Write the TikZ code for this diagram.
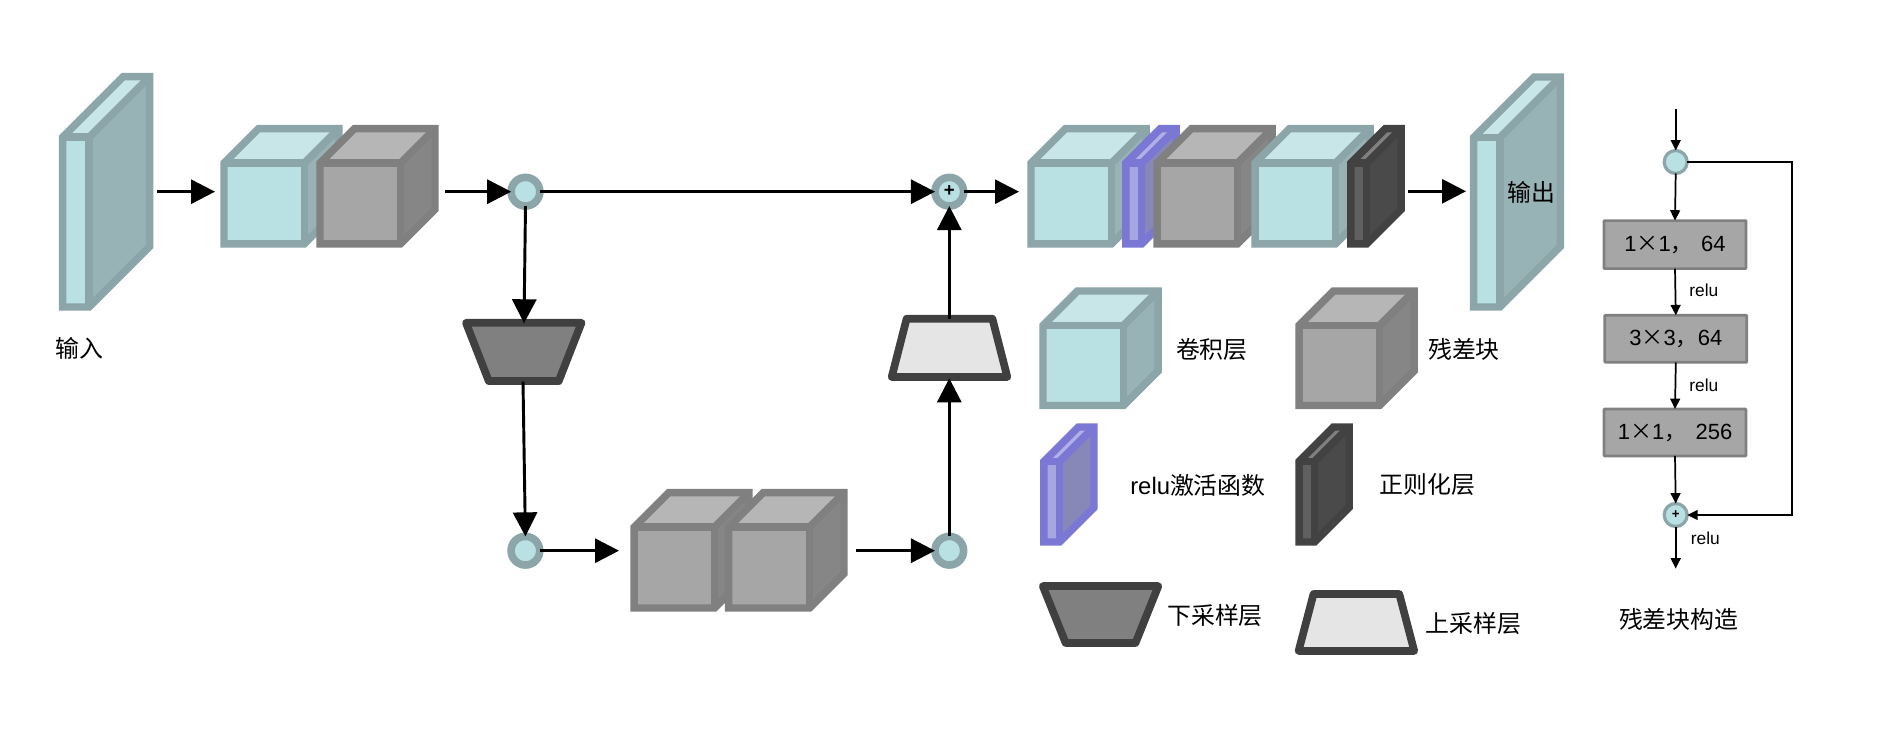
\documentclass[tikz,border=0pt]{standalone}
\usepackage{fontspec}
\setmainfont{Liberation Sans}
\newfontfamily\cjk{Noto Sans CJK SC}
\usetikzlibrary{arrows.meta}
\definecolor{cyS}{HTML}{8BA5A8}\definecolor{cyF}{HTML}{B9E0E3}\definecolor{cyT}{HTML}{C8E6E8}\definecolor{cyD}{HTML}{97B3B6}
\definecolor{grS}{HTML}{808080}\definecolor{grF}{HTML}{A6A6A6}\definecolor{grT}{HTML}{B6B6B6}\definecolor{grD}{HTML}{868686}
\definecolor{puS}{HTML}{7A78D4}\definecolor{puF}{HTML}{A6A6E0}\definecolor{puT}{HTML}{B0B0E6}\definecolor{puD}{HTML}{8888B8}
\definecolor{dkS}{HTML}{424242}\definecolor{dkF}{HTML}{606060}\definecolor{dkT}{HTML}{808080}\definecolor{dkD}{HTML}{4A4A4A}
\newcommand{\layerbox}[7]{%
  \fill[#7F] (#2,{#3+#6}) rectangle ({#4-#6},#5);
  \fill[#7T] (#2,{#3+#6}) -- ({#2+#6},#3) -- (#4,#3) -- ({#4-#6},{#3+#6}) -- cycle;
  \fill[#7D] ({#4-#6},{#3+#6}) -- (#4,#3) -- (#4,{#5-#6}) -- ({#4-#6},#5) -- cycle;
  \draw[#7S,layerline] (#2,{#3+#6}) -- ({#2+#6},#3) -- (#4,#3) -- (#4,{#5-#6}) -- ({#4-#6},#5) -- (#2,#5) -- cycle;
  \draw[#7S,layerline] (#2,{#3+#6}) -- ({#4-#6},{#3+#6}) -- ({#4-#6},#5);
  \draw[#7S,layerline] ({#4-#6},{#3+#6}) -- (#4,#3);
  \coordinate (#1) at ({(#2+#4)/2},{(#3+#5)/2});
}
\tikzset{
  layerline/.style={line width=5.6pt,line join=miter,miter limit=10},
  bigarrow/.style={line width=2.2pt,-{Triangle[length=18pt,width=18pt]}},
  smallarrow/.style={line width=1.3pt,-{Triangle[length=7.8pt,width=7.4pt]}},
  bigjunction/.style={circle,draw=cyS,fill=cyF,line width=5.7pt,inner sep=0pt,outer sep=0pt,minimum size=21.5pt},
  smalljunction/.style={circle,draw=cyS,fill=cyF,line width=2.4pt,inner sep=0pt,outer sep=0pt,minimum size=17.25pt},
  downtrap/.style={draw=black!75,fill=grS,line width=5.8pt,line join=round},
  uptrap/.style={draw=black!75,fill=black!10,line width=5.8pt,line join=round},
  resbox/.style={draw=grS,fill=grF,line width=2pt,inner sep=0pt,outer sep=0pt,rounded corners=0.5pt,font=\fontsize{16.5}{19}\selectfont},
  zh/.style={inner sep=0pt,font=\cjk\fontsize{17.9}{21}\selectfont},
  relulabel/.style={inner sep=0pt,font=\fontsize{13}{15}\selectfont}
}
\begin{document}
\begin{tikzpicture}[x=0.75pt,y=-0.75pt]
\useasboundingbox (0,0) rectangle (1887,737);
% main chain, left
\layerbox{input}{62.7}{76.7}{149.7}{307}{60.5}{cy}
\layerbox{convA}{224}{128.7}{338.8}{243.9}{34.5}{cy}
\layerbox{resA}{320}{128.7}{435}{243.9}{34.5}{gr}
% lower cubes
\layerbox{resB}{634.2}{492.7}{749}{608}{34.5}{gr}
\layerbox{resC}{728.7}{492.7}{844}{608}{34.5}{gr}
% top right chain
\layerbox{convB}{1031}{128.7}{1146}{243.9}{34.5}{cy}
\layerbox{reluA}{1125.8}{128.7}{1176.1}{243.9}{34.5}{pu}
\layerbox{resD}{1157}{128.7}{1272}{243.9}{34.5}{gr}
\layerbox{convC}{1255}{128.7}{1370}{243.9}{34.5}{cy}
\layerbox{normA}{1350.8}{128.7}{1401.2}{243.9}{34.5}{dk}
\layerbox{output}{1473.7}{77}{1560.3}{307}{60.5}{cy}
% legend
\layerbox{legConv}{1043}{291}{1158}{405.5}{34.5}{cy}
\layerbox{legRes}{1299}{291}{1414}{405.5}{34.5}{gr}
\layerbox{legRelu}{1043.8}{427}{1094}{542}{34.5}{pu}
\layerbox{legNorm}{1299}{427}{1349}{542}{34.5}{dk}
% trapezoids
\draw[downtrap] (466,322.8) -- (581.5,322.8) -- (558.7,381.1) -- (488.8,381.1) -- cycle;
\draw[uptrap] (906.6,318.8) -- (992.4,318.8) -- (1007.3,377) -- (891.7,377) -- cycle;
\draw[downtrap] (1042.8,586.1) -- (1158.3,586.1) -- (1135.5,642.9) -- (1065.6,642.9) -- cycle;
\draw[uptrap] (1313.5,594.1) -- (1399.3,594.1) -- (1414.2,650.9) -- (1298.6,650.9) -- cycle;
% junctions
\node[bigjunction] (j1) at (525.5,191.7) {};
\node[bigjunction] (jplus) at (949.3,191.7) {};
\node[font=\bfseries\fontsize{14}{14}\selectfont,inner sep=0pt] (jplustext) at (949.3,191.2) {+};
\node[bigjunction] (j2) at (525.4,550.7) {};
\node[bigjunction] (j3) at (949.3,550.7) {};
% free ends of the connectors
\coordinate (a1s) at (157.4,191.7);
\coordinate (a1e) at (215,191.7);
\coordinate (a2s) at (445,191.7);
\coordinate (dtTop) at (524,323.3);
\coordinate (dtBot) at (523,381.7);
\coordinate (a5e) at (619,550.7);
\coordinate (a6s) at (856.4,550.7);
\coordinate (utBot) at (949.3,378.3);
\coordinate (utTop) at (949.3,319);
\coordinate (a8e) at (1019,191.7);
\coordinate (a9s) at (1408.3,191.3);
\coordinate (a9e) at (1466,191.3);
% connectors
\draw[bigarrow] (a1s) -- (a1e);
\draw[bigarrow] (a2s) -- (j1.west);
\draw[bigarrow] (j1.east) -- (jplus.west);
\draw[bigarrow] (j1.south) -- (dtTop);
\draw[bigarrow] (dtBot) -- (j2.north);
\draw[bigarrow] (j2.east) -- (a5e);
\draw[bigarrow] (a6s) -- (j3.west);
\draw[bigarrow] (j3.north) -- (utBot);
\draw[bigarrow] (utTop) -- (jplus.south);
\draw[bigarrow] (jplus.east) -- (a8e);
\draw[bigarrow] (a9s) -- (a9e);
% labels
\node[zh] (tInput) at (79,348) {输入};
\node[zh] (tOutput) at (1531,192) {输出};
\node[zh] (tConv) at (1211.8,349.3) {卷积层};
\node[zh] (tRes) at (1464,349.3) {残差块};
\node[zh,anchor=west] (tRelu) at (1130,485) {\fontspec{Liberation Sans}relu\cjk 激活函数};
\node[zh] (tNorm) at (1427.5,485) {正则化层};
\node[zh] (tDown) at (1215,615.7) {下采样层};
\node[zh] (tUp) at (1473.6,623.3) {上采样层};
% residual block
\node[smalljunction] (r0) at (1675.7,162) {};
\node[resbox,minimum width=106.5pt,minimum height=36pt] (r1) at (1675,244.6) {1{\cjk ×}1{\cjk ，}\hspace{6.3pt}64};
\node[resbox,minimum width=106.5pt,minimum height=35.2pt] (r2) at (1675.8,338.8) {3{\cjk ×}3{\cjk ，}64};
\node[resbox,minimum width=106.5pt,minimum height=35.2pt] (r3) at (1675,432.5) {1{\cjk ×}1{\cjk ，}\hspace{7pt}256};
\node[smalljunction] (r4) at (1675.7,515) {};
\node[font=\bfseries\fontsize{10}{10}\selectfont,inner sep=0pt] (r4text) at (1675.7,514.5) {+};
\coordinate (rTop) at (1675.7,108.6);
\coordinate (rBot) at (1675.7,568.6);
\coordinate (rLoopA) at (1792,162);
\coordinate (rLoopB) at (1792,515);
\draw[smallarrow] (rTop) -- (r0.north);
\draw[smallarrow] (r0.south) -- (r1.north);
\draw[smallarrow] (r1.south) -- (r2.north);
\draw[smallarrow] (r2.south) -- (r3.north);
\draw[smallarrow] (r3.south) -- (r4.north);
\draw[smallarrow] (r4.south) -- (rBot);
\draw[smallarrow] (r0.east) -- (rLoopA) -- (rLoopB) -- (r4.east);
\node[relulabel] (l1) at (1703.8,290.6) {relu};
\node[relulabel] (l2) at (1703.8,385.2) {relu};
\node[relulabel] (l3) at (1705.3,538.3) {relu};
\node[zh] (tCap) at (1678.7,619.3) {残差块构造};
\end{tikzpicture}
\end{document}
